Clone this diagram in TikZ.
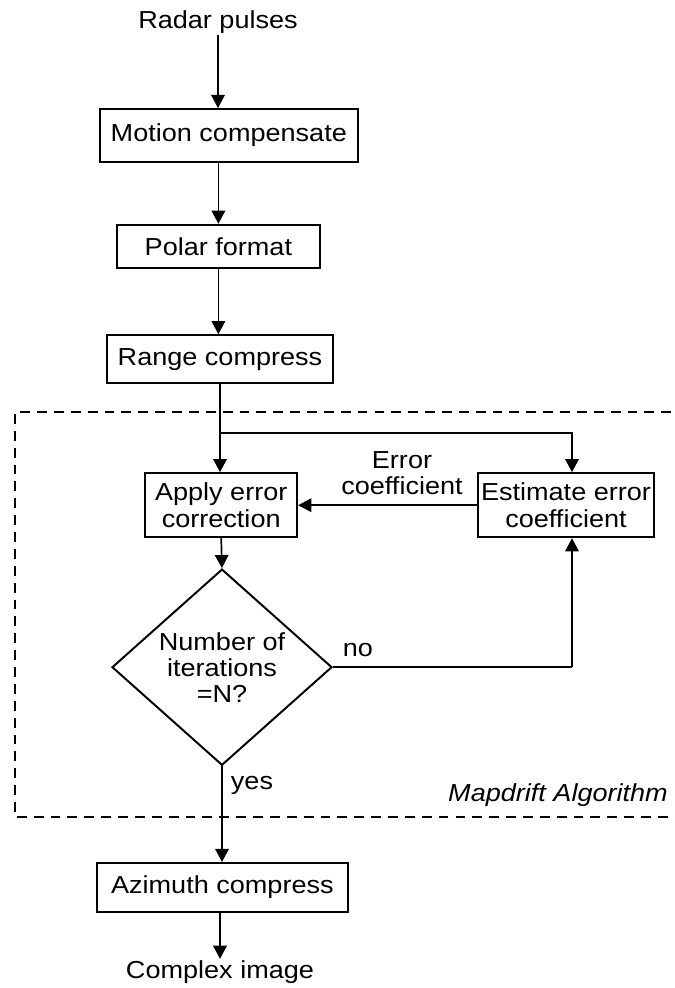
\documentclass[tikz,border=0pt]{standalone}
\usepackage{fontspec}
\setmainfont{Liberation Sans}[FakeStretch=1.1]
\usetikzlibrary{arrows.meta,shapes.geometric}
\begin{document}
\begin{tikzpicture}[
  font=\fontsize{17.5}{18.5}\selectfont,
  box/.style={draw, line width=1.4pt, align=center, inner sep=2pt},
  test/.style={draw, line width=1.4pt, diamond, align=center, inner sep=0pt, minimum width=5.5cm, minimum height=4.88cm},
  label/.style={align=center, inner sep=1pt},
  arrow/.style={-{Triangle[length=3.3mm,width=3.4mm]}, line width=1.2pt},
  line/.style={line width=1.2pt},
  group/.style={dashed, dash pattern=on 7pt off 5pt, line width=1.7pt}
]
\useasboundingbox (0,0) rectangle (16.85,-24.7);
\node[label] (radar) at (5.45,-0.55) {Radar pulses};
\node[box, minimum width=6.45cm, minimum height=1.33cm] (motion) at (5.72,-3.39) {Motion compensate};
\node[box, minimum width=5.08cm, minimum height=1.08cm] (polar) at (5.46,-6.16) {Polar format};
\node[box, minimum width=5.65cm, minimum height=1.2cm] (range) at (5.5,-8.98) {Range compress};
\node[box, minimum width=3.8cm, minimum height=1.6cm] (apply) at (5.53,-12.63) {Apply error\\correction};
\node[box, minimum width=3.95cm, minimum height=1.6cm] (estimate) at (14.15,-12.63) {Estimate error\\coefficient};
\node[test] (iter) at (5.55,-16.68) {Number of\\iterations\\=N?};
\node[box, minimum width=6.28cm, minimum height=1.23cm] (azimuth) at (5.56,-22.19) {Azimuth compress};
\node[label] (image) at (5.5,-24.3) {Complex image};
\coordinate (split) at (5.5,-10.83);
\coordinate (back) at (14.3,-16.68);

% labels
\node[label] (errlbl) at (10.05,-11.83) {Error\\coefficient};
\node[label] (nolbl) at (8.95,-16.25) {no};
\node[label] (yeslbl) at (6.3,-19.63) {yes};
\node[label, font=\fontsize{17.5}{18.5}\selectfont\itshape] (algo) at (13.95,-19.88) {Mapdrift Algorithm};

% main chain
\draw[arrow] (radar.south) -- (radar.south |- motion.north);
\draw[arrow] (polar |- motion.south) -- (polar.north);
\draw[arrow] (polar.south) -- (polar.south |- range.north);
\draw[arrow] (range.south) -- (range.south |- apply.north);
\draw[arrow] (split) -| (back |- estimate.north);
\draw[arrow] (estimate.west) -- (apply.east);
\draw[arrow] (apply.south) -- (iter.north);
\draw[line] (iter.east) -- (back);
\draw[arrow] (back) -- (back |- estimate.south);
\draw[arrow] (iter.south) -- (iter.south |- azimuth.north);
\draw[arrow] (azimuth.south -| image) -- (image.north);

% algorithm frame
\draw[group] (17.2,-10.3) -- (0.38,-10.3) -- (0.38,-20.43) -- (17.2,-20.43);
\end{tikzpicture}
\end{document}
